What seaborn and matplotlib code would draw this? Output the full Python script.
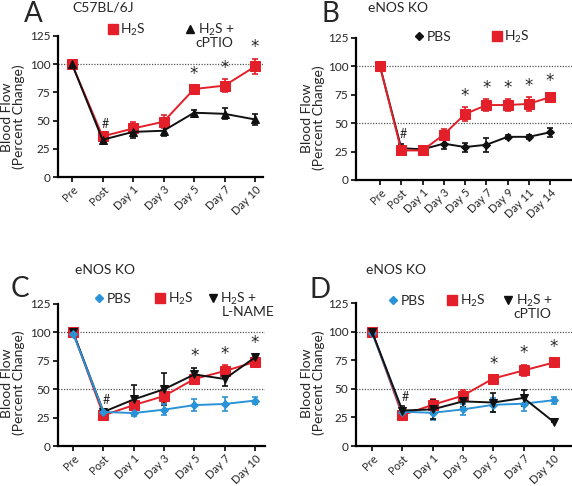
import matplotlib
matplotlib.use('Agg')
import matplotlib.pyplot as plt
import seaborn as sns
import pandas as pd
from matplotlib.lines import Line2D

sns.set_style('white')
plt.rcParams['font.family'] = ['Lato', 'DejaVu Sans']
plt.rcParams['mathtext.fontset'] = 'custom'
plt.rcParams['mathtext.rm'] = 'Lato'

RED = '#e3202a'
BLUE = '#2a92d6'
BLACK = '#111111'
H2S = 'H$_\\mathregular{2}$S'

# ---- data ----
days_short = ['Pre', 'Post', 'Day 1', 'Day 3', 'Day 5', 'Day 7', 'Day 10']
days_long = ['Pre', 'Post', 'Day 1', 'Day 3', 'Day 5', 'Day 7', 'Day 9', 'Day 11', 'Day 14']

# A: C57BL/6J
a_h2s = [100, 36, 43, 49, 78, 81, 98]
a_h2s_err = [0, 3, 6, 6, 3, 6, 7]
a_cptio = [100, 33, 40, 41, 57, 56, 51]
a_cptio_err = [0, 2, 5, 5, 2, 5, 5]
a_stars = ['Day 5', 'Day 7', 'Day 10']

# B: eNOS KO
b_pbs = [100, 28, 27, 32, 29, 31, 38, 38, 42]
b_pbs_err = [0, 4, 3, 5, 4, 6, 2, 2, 4]
b_h2s = [100, 26, 26, 40, 58, 66, 66, 67, 73]
b_h2s_err = [0, 2, 3, 5, 6, 5, 5, 6, 4]
b_stars = ['Day 5', 'Day 7', 'Day 9', 'Day 11', 'Day 14']

# C: eNOS KO, L-NAME
c_pbs = [99, 30, 29, 32, 36, 37, 40]
c_pbs_err = [0, 3, 3, 5, 5, 6, 3]
c_h2s = [100, 27, 36, 44, 59, 66, 74]
c_h2s_err = [0, 2, 4, 6, 3, 5, 4]
c_lname = [100, 30, 41, 50, 63, 59, 78]
c_lname_err = [0, 2, 13, 14, 6, 6, 3]
c_stars = ['Day 5', 'Day 7', 'Day 10']

# D: eNOS KO, cPTIO
d_pbs = [99, 30, 29, 32, 36, 37, 40]
d_pbs_err = [0, 3, 6, 5, 6, 6, 3]
d_h2s = [100, 27, 36, 44, 59, 66, 73]
d_h2s_err = [0, 2, 5, 5, 3, 5, 4]
d_cptio = [100, 31, 32, 39, 38, 42, 21]
d_cptio_err = [0, 4, 8, 5, 8, 7, 0]
d_stars = ['Day 5', 'Day 7', 'Day 10']

W, H = 572, 486
fig = plt.figure(figsize=(W / 100, H / 100), dpi=100)


def fx(px):
    return px / W


def fy(py):
    return 1 - py / H


def add_ax(l, t, r, b):
    return fig.add_axes([l / W, (H - b) / H, (r - l) / W, (b - t) / H])


def draw_series(ax, labels, vals, errs, color, marker, ms):
    df = pd.DataFrame({'x': range(len(labels)), 'y': vals})
    ax.errorbar(df['x'], df['y'], yerr=errs, fmt='none', ecolor=color,
                elinewidth=1.2, capsize=2.5, capthick=1.2, zorder=3)
    sns.lineplot(data=df, x='x', y='y', ax=ax, color=color, marker=marker,
                 markersize=ms, markeredgecolor=color, linewidth=1.4, zorder=4)


def style_ax(ax, labels, xlim, dotted):
    ax.set_xlim(*xlim)
    ax.set_ylim(0, 125)
    ax.set_yticks([0, 25, 50, 75, 100, 125])
    ax.set_xticks(range(len(labels)))
    ax.set_xticklabels(labels, rotation=45, ha='right', rotation_mode='anchor', fontsize=8)
    ax.tick_params(axis='y', labelsize=8.5, pad=2)
    ax.tick_params(axis='x', pad=1.5)
    ax.tick_params(direction='out', length=3.5, width=1.4, left=True, bottom=True)
    for s in ['top', 'right']:
        ax.spines[s].set_visible(False)
    for s in ['left', 'bottom']:
        ax.spines[s].set_linewidth(1.6)
        ax.spines[s].set_color('black')
    for yv in dotted:
        ax.axhline(yv, color='#555555', lw=0.9, ls=(0, (1, 1.2)), zorder=1)
    ax.set_xlabel('')
    ax.set_ylabel('')
    ax.grid(False)


def ylab(x, y):
    fig.text(fx(x), fy(y), 'Blood Flow\n(Percent Change)', rotation=90, fontsize=10,
             ha='center', va='center', multialignment='center', linespacing=0.95)


def marks(ax, labels, stars, tops, post_top):
    for lab in stars:
        i = labels.index(lab)
        ax.text(i, tops[i] + 2, '*', ha='center', va='bottom', fontsize=12,
                family='DejaVu Sans')
    ax.text(1.1, post_top + 3, '#', ha='center', va='bottom', fontsize=9)


def top_of(*pairs):
    return [max(v + e for v, e in zip(col[0::2], col[1::2])) for col in zip(*pairs)]


# ---- Panel A ----
axA = add_ax(58, 36, 263, 177)
draw_series(axA, days_short, a_h2s, a_h2s_err, RED, 's', 6.5)
draw_series(axA, days_short, a_cptio, a_cptio_err, BLACK, '^', 6)
style_ax(axA, days_short, (-0.46, 6.26), [100])
topsA = top_of(a_h2s, a_h2s_err, a_cptio, a_cptio_err)
marks(axA, days_short, a_stars, topsA, topsA[1])
ylab(13, 117)
fig.text(fx(24), fy(14), 'A', fontsize=20, va='center', ha='left')
fig.text(fx(72), fy(8), 'C57BL/6J', fontsize=10, va='center')

# ---- Panel B ----
axB = add_ax(356, 38, 572, 180)
draw_series(axB, days_long, b_pbs, b_pbs_err, BLACK, 'D', 4.5)
draw_series(axB, days_long, b_h2s, b_h2s_err, RED, 's', 6.5)
style_ax(axB, days_long, (-1.13, 9.03), [100, 50])
topsB = top_of(b_pbs, b_pbs_err, b_h2s, b_h2s_err)
marks(axB, days_long, b_stars, topsB, topsB[1])
ylab(313, 118)
fig.text(fx(321), fy(14), 'B', fontsize=20, va='center', ha='left')
fig.text(fx(368), fy(8), 'eNOS KO', fontsize=10, va='center')

# ---- Panel C ----
axC = add_ax(58, 304, 265, 446)
draw_series(axC, days_short, c_h2s, c_h2s_err, RED, 's', 6.5)
draw_series(axC, days_short, c_lname, c_lname_err, BLACK, 'v', 6)
draw_series(axC, days_short, c_pbs, c_pbs_err, BLUE, 'D', 4.5)
style_ax(axC, days_short, (-0.5, 6.33), [100, 50])
topsC = top_of(c_h2s, c_h2s_err, c_lname, c_lname_err)
marks(axC, days_short, c_stars, topsC, topsC[1])
ylab(13, 383)
fig.text(fx(11), fy(289), 'C', fontsize=20, va='center', ha='left')
fig.text(fx(75), fy(270), 'eNOS KO', fontsize=10, va='center')

# ---- Panel D ----
axD = add_ax(356, 303, 572, 446)
draw_series(axD, days_short, d_h2s, d_h2s_err, RED, 's', 6.5)
draw_series(axD, days_short, d_pbs, d_pbs_err, BLUE, 'D', 4.5)
draw_series(axD, days_short, d_cptio, d_cptio_err, BLACK, 'v', 6)
style_ax(axD, days_short, (-0.53, 6.6), [100, 50])
topsD = top_of(d_h2s, d_h2s_err, d_cptio, d_cptio_err)
marks(axD, days_short, d_stars, topsD, topsD[1])
ylab(313, 383)
fig.text(fx(310), fy(290), 'D', fontsize=20, va='center', ha='left')
fig.text(fx(366), fy(270), 'eNOS KO', fontsize=10, va='center')


# ---- legends: one entry each, anchored at the marker position ----
def entry(color, marker, ms, label, x, y):
    hd = Line2D([], [], ls='none', marker=marker, color=color, markersize=ms)
    fig.legend([hd], [label], loc='center left', bbox_to_anchor=(fx(x - 5), fy(y)),
               frameon=False, handlelength=0.7, handletextpad=0.2, fontsize=10,
               borderpad=0, borderaxespad=0)


entry(RED, 's', 6.5, H2S, 113, 30)
entry(BLACK, '^', 6, H2S + ' +', 190, 30)
fig.text(fx(195), fy(43), 'cPTIO', fontsize=10, va='center')

entry(BLACK, 'D', 4.5, 'PBS', 419, 37)
entry(RED, 's', 6.5, H2S, 497, 37)

entry(BLUE, 'D', 4.5, 'PBS', 99, 299)
entry(RED, 's', 6.5, H2S, 160, 299)
entry(BLACK, 'v', 6, H2S + ' +', 213, 299)
fig.text(fx(222), fy(312), 'L-NAME', fontsize=10, va='center')

entry(BLUE, 'D', 4.5, 'PBS', 393, 301)
entry(RED, 's', 6.5, H2S, 452, 301)
entry(BLACK, 'v', 6, H2S + ' +', 508, 301)
fig.text(fx(513), fy(314), 'cPTIO', fontsize=10, va='center')

fig.savefig('out.png', dpi=100)
